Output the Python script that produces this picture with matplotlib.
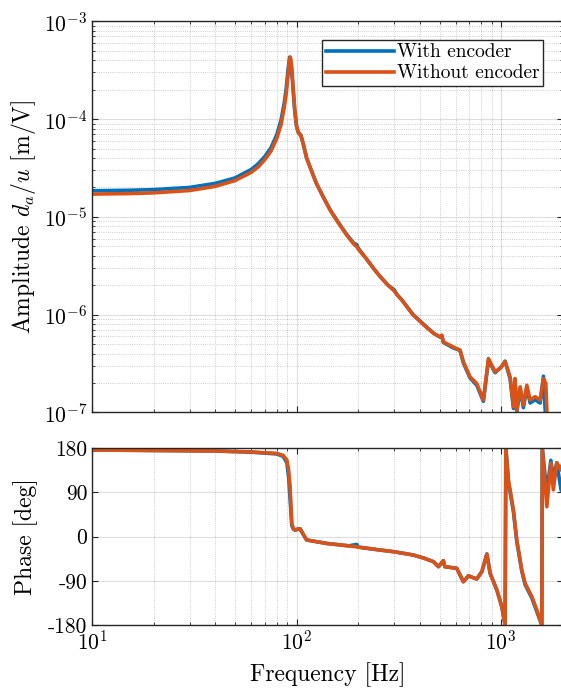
import matplotlib
matplotlib.use("Agg")
import matplotlib.pyplot as plt
import numpy as np

plt.rcParams['font.family'] = ['cmr10', 'DejaVu Serif']
plt.rcParams['mathtext.fontset'] = 'cm'
plt.rcParams['axes.formatter.use_mathtext'] = True
plt.rcParams['font.size'] = 15.5

# frequencies [Hz] and amplitude [m/V]
f_amp = [10, 15, 20, 30, 40, 50, 60, 65, 70, 75, 80, 84, 87, 89, 91, 92.5, 93.2, 94.5, 96, 98,
         100, 102, 105, 108, 112, 118, 125, 135, 146, 160, 175, 190, 197, 200, 220, 240, 256,
         280, 300, 310, 327, 371, 420, 470, 503, 513, 522, 580, 630, 654, 705, 760, 819, 867,
         935, 1000, 1046, 1107, 1149, 1170, 1193, 1239, 1285, 1336, 1386, 1466, 1552, 1611,
         1654, 1683, 1750, 2000]
amp_wo = [1.71e-5, 1.73e-5, 1.76e-5, 1.86e-5, 2.05e-5, 2.35e-5, 2.85e-5, 3.25e-5, 3.85e-5,
          4.7e-5, 6.3e-5, 8.8e-5, 1.3e-4, 1.8e-4, 2.9e-4, 4.1e-4, 4.3e-4, 3.6e-4, 2.3e-4,
          1.25e-4, 8.5e-5, 7.3e-5, 6.8e-5, 5.5e-5, 4.0e-5, 3.0e-5, 2.2e-5, 1.6e-5, 1.17e-5,
          8.7e-6, 6.6e-6, 5.3e-6, 4.95e-6, 4.7e-6, 3.7e-6, 2.9e-6, 2.46e-6, 2.0e-6, 1.75e-6,
          1.6e-6, 1.41e-6, 1.0e-6, 7.8e-7, 6.4e-7, 5.93e-7, 6.18e-7, 5.27e-7, 4.7e-7, 4.34e-7,
          3.3e-7, 2.31e-7, 1.98e-7, 1.34e-7, 3.56e-7, 2.6e-7, 2.9e-7, 3.3e-7, 2.31e-7, 1.14e-7,
          2.22e-7, 1.05e-7, 1.83e-7, 1.19e-7, 1.9e-7, 1.34e-7, 1.45e-7, 1.34e-7, 2.22e-7,
          1.98e-7, 8e-8, 6e-8, 5e-8]
amp_w = [1.85e-5, 1.87e-5, 1.9e-5, 2.0e-5, 2.2e-5, 2.5e-5, 3.05e-5, 3.5e-5, 4.15e-5,
         5.1e-5, 6.9e-5, 9.8e-5, 1.45e-4, 2.05e-4, 3.3e-4, 4.3e-4, 4.2e-4, 3.3e-4, 2.1e-4,
         1.2e-4, 8.4e-5, 7.3e-5, 6.8e-5, 5.5e-5, 4.0e-5, 3.0e-5, 2.2e-5, 1.6e-5, 1.18e-5,
         8.8e-6, 6.7e-6, 5.4e-6, 5.2e-6, 4.8e-6, 3.7e-6, 2.9e-6, 2.46e-6, 2.0e-6, 1.8e-6,
         1.6e-6, 1.42e-6, 1.0e-6, 7.9e-7, 6.4e-7, 5.9e-7, 6.1e-7, 5.2e-7, 4.6e-7, 4.3e-7,
         3.2e-7, 2.25e-7, 1.9e-7, 1.3e-7, 3.4e-7, 2.55e-7, 2.9e-7, 3.35e-7, 2.2e-7, 1.1e-7,
         2.1e-7, 1.0e-7, 1.75e-7, 1.12e-7, 1.8e-7, 1.25e-7, 1.35e-7, 1.25e-7, 2.35e-7,
         8e-8, 7e-8, 6e-8, 5e-8]

# phase [deg]
f_ph = [10, 20, 40, 60, 80, 86, 89.7, 91.5, 93, 94.8, 96.5, 98.5, 101, 104, 108, 112, 140, 180,
        197, 200, 256, 300, 372, 420, 467, 494, 522, 531, 607, 654, 692, 760, 805, 852, 884,
        953, 1008, 1046, 1055, 1086, 1149, 1193, 1262, 1310, 1413, 1495, 1581, 1590, 1673,
        1750, 1800, 1872, 1963, 2000]
ph_wo = [176, 175, 174, 172, 169, 165, 155.6, 135, 101, 27, 16, 13, 15, 16, 4, -7, -14, -19,
         -21, -21.5, -27.5, -31, -37.6, -44, -51.2, -61.4, -49.2, -61.4, -64.7, -92, -80, -86.4,
         -71.6, -35.6, -75, -108.8, -142.8, -180, 180, 115, 54, -7, -68, -95, -122, -149.5,
         -180, 180, 60.6, 149, 95, 150, 135, 150]
ph_w = [176, 175, 174, 171.5, 168, 163, 150, 120, 75, 22, 15, 13, 15, 16, 4, -7, -14, -19,
        -16, -21.5, -27.5, -31, -37.6, -44, -51.2, -61.4, -49.2, -61.4, -64.7, -92, -80, -86.4,
        -71.6, -35.6, -75, -108.8, -142.8, -180, 180, 110, 50, -10, -70, -98, -125, -153,
        -180, 180, 90, 155, 120, 150, 95, 90]

blue = '#0072BD'
orange = '#D95319'
gcol = '0.15'

fig = plt.figure(figsize=(5.61, 6.93), dpi=100)
ax1 = fig.add_axes([0.164, 0.4048, 0.839, 0.5645])
ax2 = fig.add_axes([0.164, 0.0981, 0.839, 0.2554], sharex=ax1)

ax1.plot(f_amp, amp_w, color=blue, lw=2.6, label='With encoder')
ax1.plot(f_amp, amp_wo, color=orange, lw=2.6, label='Without encoder')
ax1.set_xscale('log')
ax1.set_yscale('log')
ax1.set_ylim(1e-7, 1e-3)
ax1.set_xlim(10, 2000)
ax1.set_ylabel(r'Amplitude $d_a/u$ [m/V]', fontsize=17)
ax1.tick_params(labelbottom=False)
leg = ax1.legend(loc='upper right', bbox_to_anchor=(0.958, 0.953), fancybox=False,
                 framealpha=1, edgecolor=gcol, handlelength=3.5, handletextpad=0.15,
                 borderpad=0.2, labelspacing=0.15, borderaxespad=0, fontsize=14)
leg.get_frame().set_linewidth(1.0)

ax2.plot(f_ph, ph_w, color=blue, lw=2.6)
ax2.plot(f_ph, ph_wo, color=orange, lw=2.6)
ax2.set_ylim(-180, 180)
ax2.set_yticks([-180, -90, 0, 90, 180])
ax2.set_yticklabels(['-180', '-90', '0', '90', '180'])
ax2.set_ylabel('Phase [deg]', fontsize=17)
ax2.set_xlabel('Frequency [Hz]', fontsize=17, labelpad=6)

for ax in (ax1, ax2):
    ax.grid(True, which='major', color=gcol, alpha=0.15, lw=0.8)
    ax.grid(True, which='minor', axis='x', color=gcol, alpha=0.3, lw=0.6, ls=':')
    ax.tick_params(which='both', direction='in', top=True, right=True, colors=gcol,
                   labelcolor='black', labelsize=15.5)
    ax.tick_params(which='major', length=4)
    ax.tick_params(which='minor', length=2)
    for s in ax.spines.values():
        s.set_color(gcol)
        s.set_linewidth(1.0)
ax1.grid(True, which='minor', axis='y', color=gcol, alpha=0.3, lw=0.6, ls=':')
ax2.yaxis.set_label_coords(-0.115, 0.5)
ax1.yaxis.set_label_coords(-0.115, 0.5)

fig.savefig('out.png', dpi=100)
